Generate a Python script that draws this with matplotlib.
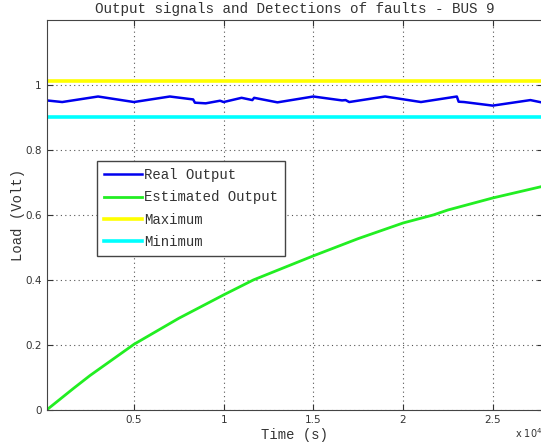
import numpy as np
import matplotlib.pyplot as plt

# real output (time in units of 1e4 s)
t_real = [0.013, 0.10, 0.30, 0.50, 0.70, 0.83, 0.84, 0.90, 0.98, 1.00, 1.10, 1.16,
          1.17, 1.30, 1.50, 1.66, 1.68, 1.70, 1.90, 2.10, 2.30, 2.31, 2.34, 2.50,
          2.71, 2.78]
v_real = [0.952, 0.947, 0.964, 0.947, 0.964, 0.955, 0.945, 0.943, 0.951, 0.947, 0.960, 0.953,
          0.960, 0.946, 0.964, 0.952, 0.953, 0.947, 0.964, 0.947, 0.964, 0.948, 0.947, 0.936,
          0.953, 0.945]

# estimated output
t_est = [0.013, 0.162, 0.255, 0.50, 0.75, 1.00, 1.166, 1.50, 1.75, 2.00, 2.17, 2.25, 2.50, 2.78]
v_est = [0.0, 0.066, 0.106, 0.202, 0.282, 0.354, 0.400, 0.474, 0.527, 0.575, 0.600, 0.615, 0.652, 0.688]

v_max = 1.012
v_min = 0.90

mono = 'Liberation Mono'

fig = plt.figure(figsize=(5.41, 4.46), dpi=100)
ax = fig.add_axes([0.0861, 0.0807, 0.9175, 0.875])

ax.plot(t_real, v_real, color='#0000ee', lw=1.8, label='Real Output')
ax.plot(t_est, v_est, color='#22ee22', lw=2.0, label='Estimated Output')
ax.axhline(v_max, color='#ffff00', lw=2.6, label='Maximum')
ax.axhline(v_min, color='#00ffff', lw=2.6, label='Minimum')

ax.set_xlim(0.013, 2.78)
ax.set_ylim(0, 1.2)
ax.set_xticks([0.5, 1, 1.5, 2, 2.5])
ax.set_xticklabels(['0.5', '1', '1.5', '2', '2.5'])
ax.set_yticks([0, 0.2, 0.4, 0.6, 0.8, 1])
ax.set_yticklabels(['0', '0.2', '0.4', '0.6', '0.8', '1'])
ax.grid(True, linestyle=(0, (1, 3)), color='#555555', lw=0.8)
ax.tick_params(direction='in', top=True, right=True, length=4, labelsize=7.5,
               colors='#333333', labelcolor='#333333')
for s in ax.spines.values():
    s.set_color('#444444')

ax.set_title('Output signals and Detections of faults - BUS 9', family=mono,
             fontsize=10.3, color='#333333', pad=5)
ax.set_xlabel('Time (s)', family=mono, fontsize=10, color='#333333', labelpad=2)
ax.set_ylabel('Load (Volt)', family=mono, fontsize=10, color='#333333', labelpad=0)

leg = ax.legend(loc='upper left', bbox_to_anchor=(0.101, 0.638), prop={'family': mono, 'size': 10.1},
                fancybox=False, framealpha=1, edgecolor='#444444', handlelength=2.7,
                handletextpad=0.2, borderpad=0.5, labelspacing=0.6, borderaxespad=0)
for txt in leg.get_texts():
    txt.set_color('#333333')

fig.text(0.952, 0.018, 'x 10$^{4}$', fontsize=7, color='#333333')

fig.savefig('out.png', dpi=100)
